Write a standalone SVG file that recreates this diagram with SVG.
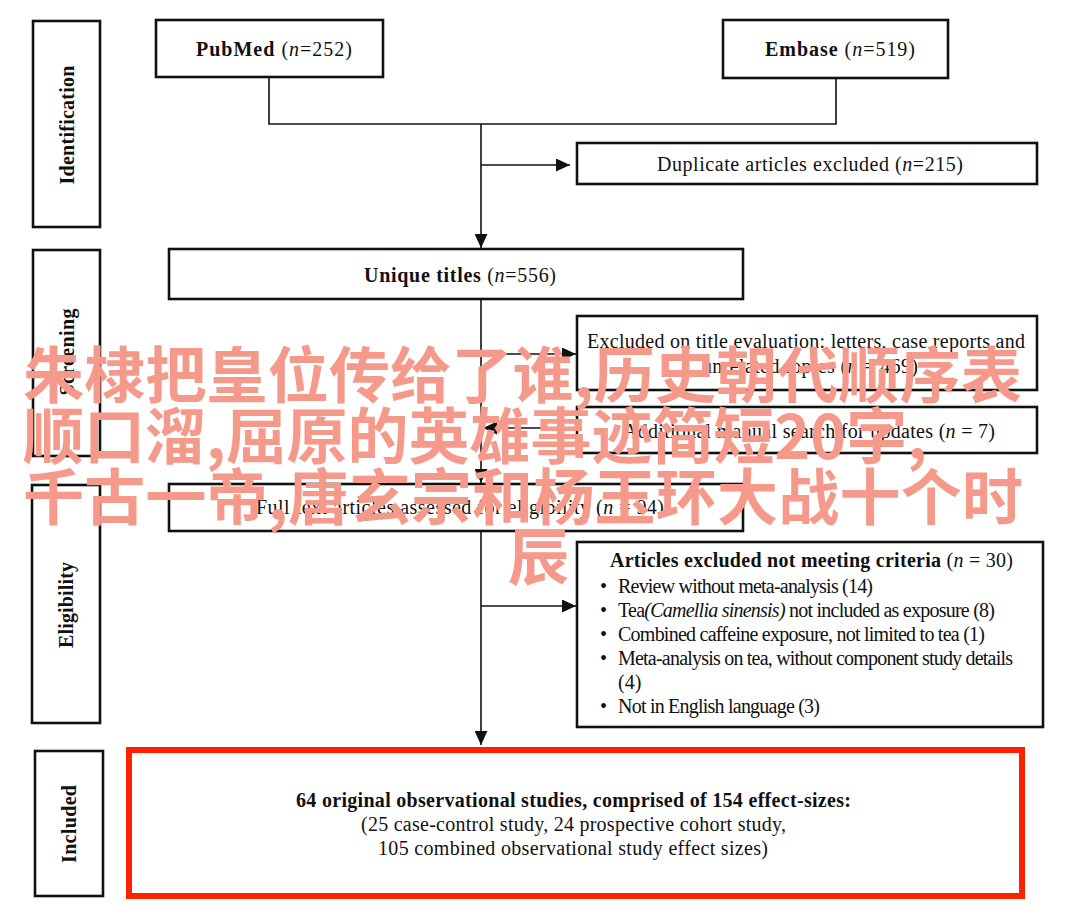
<svg xmlns="http://www.w3.org/2000/svg" width="1080" height="915" viewBox="0 0 1080 915">
<style>
.box{fill:#fff;stroke:#111;stroke-width:2.6}
.red{fill:#fff;stroke:#ff2200;stroke-width:6}
.ln{fill:none;stroke:#111;stroke-width:1.6}
.t{font-family:"Liberation Serif","Times New Roman",serif;font-size:20px;fill:#111}
.c{text-anchor:middle}
.b{font-weight:bold}
.i{font-style:italic}
.wm{font-family:"Noto Sans CJK SC","Noto Sans",sans-serif;font-size:61px;font-weight:bold;fill:#f59a8b}
</style>
<defs>
<marker id="arr" markerUnits="userSpaceOnUse" markerWidth="14" markerHeight="13" refX="14" refY="6.5" orient="auto">
<path d="M0,0 L14,6.5 L0,13 z" fill="#111"/>
</marker>
</defs>
<rect width="1080" height="915" fill="#fff"/>

<g id="connectors">
<path class="ln" d="M269,78 V124 H836 V79"/>
<path class="ln" d="M481,124 V248" marker-end="url(#arr)"/>
<path class="ln" d="M481,165 H570" marker-end="url(#arr)"/>
<path class="ln" d="M481,299 V483" marker-end="url(#arr)"/>
<path class="ln" d="M481,354 H576" marker-end="url(#arr)"/>
<path class="ln" d="M577,428 H483" marker-end="url(#arr)"/>
<path class="ln" d="M481,531 V745" marker-end="url(#arr)"/>
<path class="ln" d="M481,606 H576" marker-end="url(#arr)"/>
</g>

<g id="stage-identification">
<rect class="box" x="33" y="21" width="67" height="206"/>
<text class="t b c" transform="translate(74,125) rotate(-90)" textLength="119">Identification</text>
</g>
<g id="stage-screening">
<rect class="box" x="33" y="250" width="67" height="206"/>
<text class="t b c" transform="translate(74,352) rotate(-90)" textLength="87">Screening</text>
</g>
<g id="stage-eligibility">
<rect class="box" x="32" y="485" width="68" height="238"/>
<text class="t b c" transform="translate(73,605) rotate(-90)" textLength="86">Eligibility</text>
</g>
<g id="stage-included">
<rect class="box" x="35" y="751" width="68" height="145"/>
<text class="t b c" transform="translate(76,824) rotate(-90)" textLength="78">Included</text>
</g>

<g id="pubmed">
<rect class="box" x="156" y="20" width="227" height="57"/>
<text class="t c" x="274" y="56" textLength="156"><tspan class="b">PubMed</tspan> (<tspan class="i">n</tspan>=252)</text>
</g>
<g id="embase">
<rect class="box" x="723" y="20" width="225" height="58"/>
<text class="t c" x="840" y="56" textLength="150"><tspan class="b">Embase</tspan> (<tspan class="i">n</tspan>=519)</text>
</g>
<g id="duplicates">
<rect class="box" x="577" y="143" width="460" height="41"/>
<text class="t c" x="810" y="171" textLength="306">Duplicate articles excluded (<tspan class="i">n</tspan>=215)</text>
</g>
<g id="unique">
<rect class="box" x="169" y="249" width="574" height="50"/>
<text class="t c" x="460" y="282" textLength="192"><tspan class="b">Unique titles</tspan> (<tspan class="i">n</tspan>=556)</text>
</g>
<g id="excluded-title">
<rect class="box" x="577" y="316" width="460" height="74"/>
<text class="t c" x="806" y="348" textLength="438">Excluded on title evaluation: letters, case reports and</text>
<text class="t c" x="810" y="373" textLength="216">unrelated topics (<tspan class="i">n</tspan> = 469)</text>
</g>
<g id="additional">
<rect class="box" x="577" y="407" width="460" height="46"/>
<text class="t c" x="809" y="438" textLength="372">Additional manual search for updates (<tspan class="i">n</tspan> = 7)</text>
</g>
<g id="fulltext">
<rect class="box" x="169" y="484" width="574" height="47"/>
<text class="t c" x="460" y="514" textLength="408">Full text articles assessed for eligibility (<tspan class="i">n</tspan> = 94)</text>
</g>
<g id="excluded-criteria">
<rect class="box" x="577" y="542" width="466" height="185"/>
<text class="t c" x="811.5" y="567" textLength="403"><tspan class="b">Articles excluded not meeting criteria</tspan> (<tspan class="i">n</tspan> = 30)</text>
<text class="t" x="600" y="593">•</text>
<text class="t" x="618" y="593" textLength="255">Review without meta-analysis (14)</text>
<text class="t" x="600" y="617">•</text>
<text class="t" x="618" y="617" textLength="377">Tea<tspan class="i">(Camellia sinensis)</tspan> not included as exposure (8)</text>
<text class="t" x="600" y="641">•</text>
<text class="t" x="618" y="641" textLength="367">Combined caffeine exposure, not limited to tea (1)</text>
<text class="t" x="600" y="665">•</text>
<text class="t" x="618" y="665" textLength="395">Meta-analysis on tea, without component study details</text>
<text class="t" x="618" y="689">(4)</text>
<text class="t" x="600" y="713">•</text>
<text class="t" x="618" y="713" textLength="202">Not in English language (3)</text>
</g>
<g id="included">
<rect class="red" x="129" y="750" width="893" height="146"/>
<text class="t b c" x="573.5" y="807" textLength="555">64 original observational studies, comprised of 154 effect-sizes:</text>
<text class="t c" x="573.5" y="831" textLength="425">(25 case-control study, 24 prospective cohort study,</text>
<text class="t c" x="573" y="855" textLength="390">105 combined observational study effect sizes)</text>
</g>

<g id="overlay-text">
<text class="wm" x="23" y="398" textLength="999">朱棣把皇位传给了谁,历史朝代顺序表</text>
<text class="wm" x="23" y="459" textLength="904">顺口溜,屈原的英雄事迹简短20字,</text>
<text class="wm" x="23" y="520" textLength="1000">千古一帝,唐玄宗和杨玉环大战十个时</text>
<text class="wm" x="508" y="580">辰</text>
</g>
</svg>
